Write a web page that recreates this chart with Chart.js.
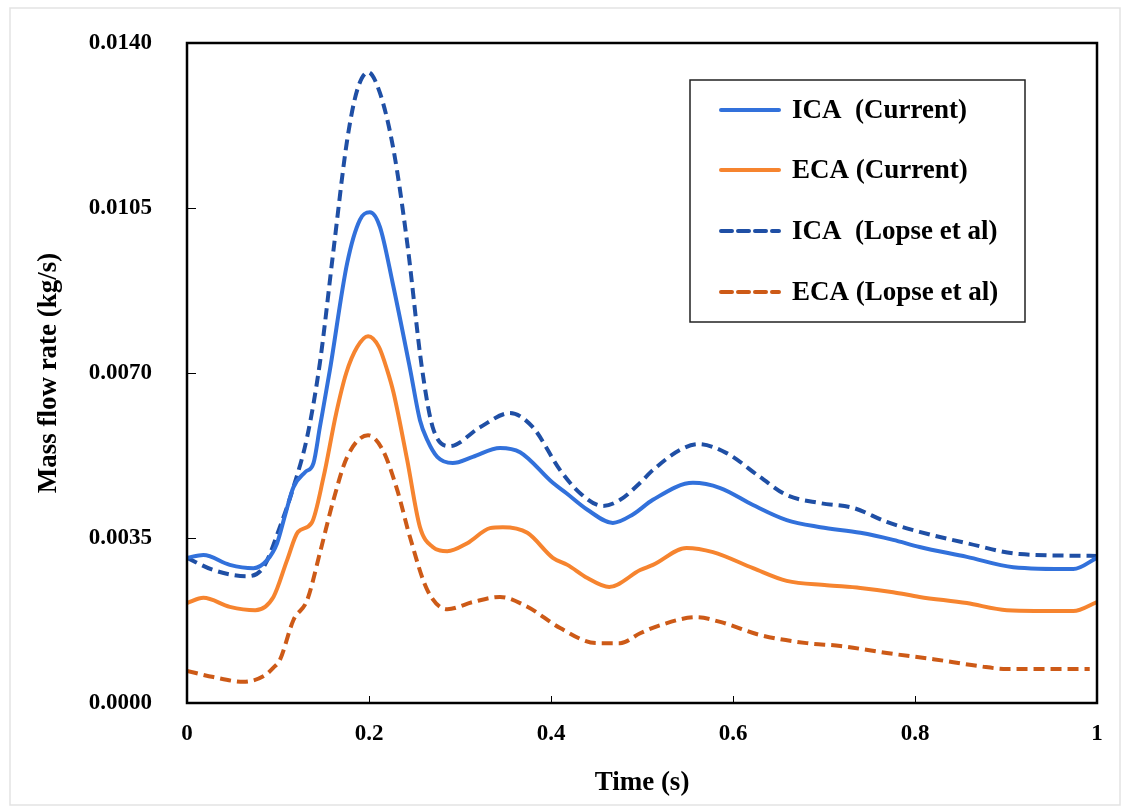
<!DOCTYPE html>
<html>
<head>
<meta charset="utf-8">
<script src="https://cdn.jsdelivr.net/npm/chart.js@4.4.0/dist/chart.umd.min.js"></script>
<style>
  html, body { margin: 0; padding: 0; background: #fff; }
  #wrap { width: 1129px; height: 808px; }
</style>
</head>
<body>
<div id="wrap"><canvas id="myChart"></canvas></div>
<script>
// values
var seriesNames = ['ICA  (Current)', 'ECA (Current)', 'ICA  (Lopse et al)', 'ECA (Lopse et al)'];

var icaCurT = [0, 0.018, 0.047, 0.073, 0.088, 0.099, 0.108, 0.117, 0.13, 0.139, 0.146, 0.157, 0.176, 0.19, 0.201, 0.212, 0.226, 0.245, 0.256, 0.264, 0.275, 0.292, 0.314, 0.344, 0.366, 0.402, 0.417, 0.44, 0.468, 0.49, 0.512, 0.556, 0.586, 0.622, 0.659, 0.696, 0.74, 0.776, 0.805, 0.857, 0.908, 0.974, 1.0];
var icaCurV = [0.00308, 0.00314, 0.00293, 0.00286, 0.00303, 0.00339, 0.00400, 0.00458, 0.00490, 0.00509, 0.00585, 0.00706, 0.00933, 0.01025, 0.01041, 0.01010, 0.00891, 0.00710, 0.00600, 0.00558, 0.00522, 0.00509, 0.00522, 0.00541, 0.00532, 0.00467, 0.00445, 0.00410, 0.00382, 0.00400, 0.00431, 0.00467, 0.00456, 0.00420, 0.00388, 0.00373, 0.00361, 0.00346, 0.00331, 0.00310, 0.00288, 0.00284, 0.00308];

var ecaCurT = [0, 0.018, 0.047, 0.075, 0.095, 0.11, 0.122, 0.137, 0.15, 0.164, 0.175, 0.187, 0.199, 0.211, 0.22, 0.227, 0.242, 0.256, 0.27, 0.286, 0.308, 0.333, 0.347, 0.374, 0.402, 0.418, 0.44, 0.464, 0.498, 0.512, 0.549, 0.578, 0.622, 0.659, 0.703, 0.74, 0.776, 0.805, 0.857, 0.901, 0.974, 1.0];
var ecaCurV = [0.00212, 0.00223, 0.00204, 0.00197, 0.00225, 0.00303, 0.00363, 0.00382, 0.00479, 0.00615, 0.00700, 0.00755, 0.00778, 0.00755, 0.00706, 0.00658, 0.00515, 0.00373, 0.00331, 0.00322, 0.00339, 0.00371, 0.00373, 0.00361, 0.00308, 0.00293, 0.00265, 0.00246, 0.00282, 0.00293, 0.00329, 0.00320, 0.00286, 0.00259, 0.00250, 0.00244, 0.00235, 0.00225, 0.00212, 0.00197, 0.00195, 0.00214];

var icaLopT = [0, 0.029, 0.066, 0.084, 0.102, 0.117, 0.132, 0.146, 0.161, 0.176, 0.187, 0.199, 0.212, 0.227, 0.242, 0.258, 0.27, 0.289, 0.322, 0.355, 0.38, 0.41, 0.432, 0.457, 0.476, 0.498, 0.512, 0.542, 0.562, 0.593, 0.63, 0.659, 0.696, 0.732, 0.769, 0.805, 0.857, 0.915, 1.0];
var icaLopV = [0.00308, 0.00282, 0.00269, 0.00288, 0.00373, 0.00458, 0.00564, 0.00721, 0.00961, 0.01194, 0.01300, 0.01338, 0.01294, 0.01173, 0.00976, 0.00713, 0.00585, 0.00545, 0.00585, 0.00615, 0.00585, 0.00494, 0.00445, 0.00418, 0.00431, 0.00467, 0.00494, 0.00537, 0.00549, 0.00530, 0.00479, 0.00441, 0.00424, 0.00414, 0.00384, 0.00363, 0.00339, 0.00316, 0.00312];

var ecaLopT = [0, 0.029, 0.062, 0.085, 0.095, 0.102, 0.117, 0.132, 0.146, 0.161, 0.176, 0.199, 0.215, 0.231, 0.245, 0.264, 0.286, 0.314, 0.344, 0.374, 0.41, 0.45, 0.476, 0.498, 0.52, 0.56, 0.586, 0.63, 0.681, 0.718, 0.769, 0.82, 0.871, 0.901, 0.992];
var ecaLopV = [0.00068, 0.00055, 0.00045, 0.00058, 0.00075, 0.00091, 0.00176, 0.00218, 0.00318, 0.00431, 0.00522, 0.00568, 0.00537, 0.00452, 0.00352, 0.00240, 0.00199, 0.00214, 0.00225, 0.00204, 0.00159, 0.00127, 0.00127, 0.00148, 0.00165, 0.00182, 0.00172, 0.00144, 0.00127, 0.00121, 0.00106, 0.00093, 0.00078, 0.00072, 0.00072];

var xTicks = [0, 0.2, 0.4, 0.6, 0.8, 1];
var yTicks = [0, 0.0035, 0.007, 0.0105, 0.014];

function pts(t, v) {
    var out = [];
    for (var i = 0; i < t.length; i++) {
        out.push({ x: t[i], y: v[i] });
    }
    return out;
}

var serif = '"Liberation Serif", "Times New Roman", serif';

// black frame round the plot, inward ticks, outer grey border
var framePlugin = {
    id: 'frame',
    beforeDraw: function (chart) {
        var ctx = chart.ctx;
        ctx.save();
        ctx.strokeStyle = '#e3e3e3';
        ctx.lineWidth = 1.5;
        ctx.strokeRect(10, 8, 1110, 797);
        ctx.restore();
    },
    afterDatasetsDraw: function (chart) {
        var ctx = chart.ctx;
        var a = chart.chartArea;
        var xs = chart.scales.x, ys = chart.scales.y;
        ctx.save();
        ctx.strokeStyle = '#000';
        ctx.lineWidth = 1;
        ctx.beginPath();
        yTicks.forEach(function (v) {
            var py = Math.round(ys.getPixelForValue(v)) + 0.5;
            ctx.moveTo(a.left, py);
            ctx.lineTo(a.left + 9, py);
        });
        xTicks.forEach(function (v) {
            var px = Math.round(xs.getPixelForValue(v)) + 0.5;
            ctx.moveTo(px, a.bottom);
            ctx.lineTo(px, a.bottom - 7);
        });
        ctx.stroke();
        ctx.lineWidth = 2.5;
        ctx.strokeRect(a.left, a.top, a.right - a.left, a.bottom - a.top);
        ctx.restore();
    }
};

// boxed legend inside the plot, top right
var boxLegend = {
    id: 'boxLegend',
    afterDraw: function (chart) {
        var ctx = chart.ctx;
        ctx.save();
        ctx.fillStyle = '#fff';
        ctx.fillRect(690, 80, 335, 242);
        ctx.strokeStyle = '#222';
        ctx.lineWidth = 1.5;
        ctx.strokeRect(690, 80, 335, 242);
        var rows = [110, 170, 231, 292];
        chart.data.datasets.forEach(function (ds, i) {
            var y = rows[i];
            ctx.strokeStyle = ds.borderColor;
            ctx.lineWidth = ds.borderWidth;
            ctx.lineCap = 'round';
            ctx.setLineDash(ds.borderDash || []);
            ctx.beginPath();
            ctx.moveTo(721, y);
            ctx.lineTo(779, y);
            ctx.stroke();
            ctx.setLineDash([]);
            ctx.fillStyle = '#000';
            ctx.font = 'bold 27px ' + serif;
            ctx.textBaseline = 'middle';
            ctx.textAlign = 'left';
            ctx.fillText(ds.label, 792, y + 1);
        });
        ctx.restore();
    }
};

var ctx = document.getElementById('myChart').getContext('2d');
var chart = new Chart(ctx, {
    type: 'line',
    data: {
        datasets: [{
            label: seriesNames[0],
            data: pts(icaCurT, icaCurV),
            borderColor: '#3271DB',
            borderWidth: 4
        }, {
            label: seriesNames[1],
            data: pts(ecaCurT, ecaCurV),
            borderColor: '#F6842F',
            borderWidth: 4
        }, {
            label: seriesNames[2],
            data: pts(icaLopT, icaLopV),
            borderColor: '#1F4FA5',
            borderWidth: 4,
            borderDash: [11, 6]
        }, {
            label: seriesNames[3],
            data: pts(ecaLopT, ecaLopV),
            borderColor: '#CD5A17',
            borderWidth: 4,
            borderDash: [11, 6]
        }]
    },
    options: {
        responsive: true,
        maintainAspectRatio: false,
        animation: false,
        layout: { padding: { left: 0, right: 32, top: 43, bottom: 0 } },
        elements: {
            point: { radius: 0 },
            line: { tension: 0.4, cubicInterpolationMode: 'monotone', fill: false }
        },
        plugins: {
            legend: { display: false },
            tooltip: { enabled: false }
        },
        scales: {
            x: {
                type: 'linear',
                min: 0,
                max: 1,
                grid: { display: false },
                border: { display: false },
                afterBuildTicks: function (scale) {
                    scale.ticks = xTicks.map(function (v) { return { value: v }; });
                },
                afterFit: function (scale) { scale.height = 105; },
                ticks: {
                    color: '#000',
                    padding: 9,
                    maxRotation: 0,
                    font: { family: serif, size: 23, weight: 'bold' },
                    callback: function (v) { return String(v); }
                },
                title: {
                    display: true,
                    text: 'Time (s)',
                    color: '#000',
                    padding: { top: 0, bottom: 9 },
                    font: { family: serif, size: 27, weight: 'bold' }
                }
            },
            y: {
                min: 0,
                max: 0.014,
                grid: { display: false },
                border: { display: false },
                afterBuildTicks: function (scale) {
                    scale.ticks = yTicks.map(function (v) { return { value: v }; });
                },
                afterFit: function (scale) { scale.width = 187; },
                ticks: {
                    color: '#000',
                    padding: 27,
                    font: { family: serif, size: 23, weight: 'bold' },
                    callback: function (v) { return v.toFixed(4); }
                },
                title: {
                    display: true,
                    text: 'Mass flow rate (kg/s)',
                    color: '#000',
                    padding: { top: 33, bottom: 0 },
                    font: { family: serif, size: 27, weight: 'bold' }
                }
            }
        }
    },
    plugins: [framePlugin, boxLegend]
});
</script>
</body>
</html>
